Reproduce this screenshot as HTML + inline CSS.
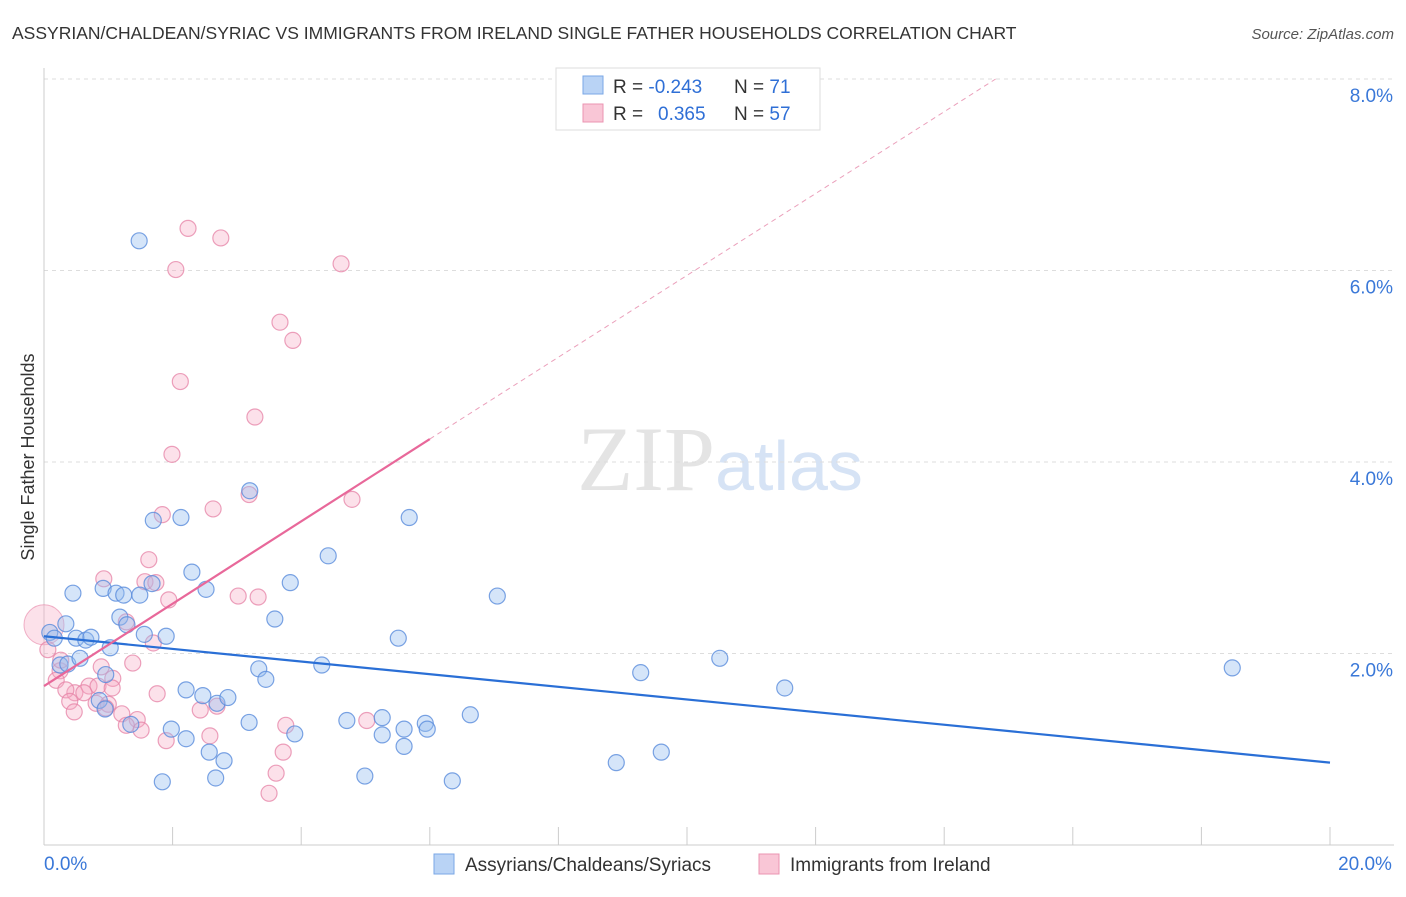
<!DOCTYPE html>
<html><head><meta charset="utf-8"><style>
body{margin:0;background:#fff;font-family:"Liberation Sans",sans-serif;}
svg text{font-family:"Liberation Sans",sans-serif;}
</style></head><body>
<svg width="1406" height="892" viewBox="0 0 1406 892" xmlns="http://www.w3.org/2000/svg">
<text x="12" y="39" font-size="17.5" fill="#333">ASSYRIAN/CHALDEAN/SYRIAC VS IMMIGRANTS FROM IRELAND SINGLE FATHER HOUSEHOLDS CORRELATION CHART</text>
<text x="1394" y="39" font-size="15" fill="#555" text-anchor="end" font-style="italic">Source: ZipAtlas.com</text>
<text x="720" y="490" font-size="92" fill="#e4e4e4" text-anchor="middle" font-family="Liberation Serif"><tspan font-family="Liberation Serif">ZIP</tspan><tspan fill="#d6e3f5" font-family="Liberation Sans" font-size="70">atlas</tspan></text>
<g id="grid"></g>
<g id="axes"></g>
<g id="pts"></g>
<g id="trends"></g>
<text x="34" y="457" font-size="18" fill="#333" text-anchor="middle" transform="rotate(-90 34 457)">Single Father Households</text>
<g>
<rect x="556" y="68" width="264" height="62" fill="#fff" stroke="#ddd"/>
<rect x="583" y="76" width="20" height="18" fill="#b9d3f5" stroke="#7aa7e6"/>
<rect x="583" y="104" width="20" height="18" fill="#f9c6d6" stroke="#eb94b2"/>
<text x="613" y="93" font-size="19" fill="#333">R = <tspan fill="#2f6fd6">-0.243</tspan><tspan x="734">N = </tspan><tspan fill="#2f6fd6">71</tspan></text>
<text x="613" y="120" font-size="19" fill="#333">R = <tspan x="658" fill="#2f6fd6">0.365</tspan><tspan x="734">N = </tspan><tspan fill="#2f6fd6">57</tspan></text>
</g>
<g>
<rect x="434" y="854" width="20" height="20" fill="#b9d3f5" stroke="#7aa7e6"/>
<text x="465" y="871" font-size="19" fill="#333">Assyrians/Chaldeans/Syriacs</text>
<rect x="759" y="854" width="20" height="20" fill="#f9c6d6" stroke="#eb94b2"/>
<text x="790" y="871" font-size="19" fill="#333">Immigrants from Ireland</text>
</g>
</svg>
<script>
const yTicks=[2,4,6,8];
const yTickLabels=["2.0%","4.0%","6.0%","8.0%"];
const xTickLabels=["0.0%","20.0%"];
const blueX=[1.48,0.09,0.16,0.34,0.45,0.25,0.37,0.56,0.50,0.65,0.73,0.92,1.12,1.24,1.49,1.03,1.18,1.29,1.56,1.68,1.90,1.70,2.13,2.30,2.52,3.20,3.83,3.59,3.34,3.45,4.32,4.42,5.51,5.68,7.05,2.21,2.47,2.69,2.86,1.98,2.21,2.57,2.80,3.19,3.90,4.71,5.26,5.26,5.60,5.60,5.93,5.96,6.63,1.84,2.67,4.99,6.35,9.28,10.51,11.52,8.90,9.60,18.48,0.86,0.95,1.35,0.96];
const blueY=[6.31,2.22,2.16,2.31,2.63,1.88,1.89,1.95,2.16,2.14,2.17,2.68,2.63,2.61,2.61,2.06,2.38,2.30,2.20,2.73,2.18,3.39,3.42,2.85,2.67,3.70,2.74,2.36,1.84,1.73,1.88,3.02,2.16,3.42,2.60,1.62,1.56,1.48,1.54,1.21,1.11,0.97,0.88,1.28,1.16,1.30,1.33,1.15,1.21,1.03,1.27,1.21,1.36,0.66,0.70,0.72,0.67,1.80,1.95,1.64,0.86,0.97,1.85,1.51,1.42,1.26,1.78];
const pinkX=[2.24,2.75,2.05,4.62,3.67,3.87,2.12,3.28,1.99,4.79,3.19,2.63,1.84,1.63,0.93,1.57,1.74,1.94,3.02,3.33,1.28,1.70,1.38,0.89,0.70,0.84,1.07,1.06,0.25,0.19,0.48,0.34,0.62,0.40,0.81,1.00,0.47,1.21,1.45,1.28,1.51,1.76,2.43,2.69,1.90,2.58,3.76,3.72,3.61,3.50,5.02,0.06,0.96,0.26];
const pinkY=[6.44,6.34,6.01,6.07,5.46,5.27,4.84,4.47,4.08,3.61,3.66,3.51,3.45,2.98,2.78,2.75,2.74,2.56,2.60,2.59,2.33,2.11,1.90,1.86,1.66,1.66,1.74,1.64,1.82,1.72,1.59,1.62,1.59,1.50,1.48,1.47,1.39,1.37,1.31,1.25,1.20,1.58,1.41,1.45,1.09,1.14,1.25,0.97,0.75,0.54,1.30,2.04,1.43,1.93];
const blueTrend=[[0,2.18],[20,0.86]];
const pinkTrend=[[0,1.66],[6,4.24]];
const pinkDash=[[6,4.24],[14.8,8.0]];
const NS="http://www.w3.org/2000/svg";
const X=v=>44+v*64.3, Y=v=>845-v*95.75;
function mk(tag,attrs,parent){const e=document.createElementNS(NS,tag);for(const k in attrs)e.setAttribute(k,attrs[k]);parent.appendChild(e);return e;}
const grid=document.getElementById('grid'),axes=document.getElementById('axes'),pts=document.getElementById('pts'),tr=document.getElementById('trends');
yTicks.forEach((t,i)=>{
 const l=mk('line',{x1:44,x2:1394,y1:Y(t),y2:Y(t),stroke:'#ddd','stroke-dasharray':'4,4'},grid);
 
 
 const tx=mk('text',{x:1393,y:Y(t)+23,'font-size':19,fill:'#3a78d8','text-anchor':'end'},axes);
 tx.textContent=yTickLabels[i];
 
 
});
const tl=mk('line',{x1:44,x2:1394,y1:79,y2:79,stroke:'#ddd','stroke-dasharray':'4,4'},grid);


const ya=mk('line',{x1:44,x2:44,y1:68,y2:845,stroke:'#ccc'},axes);


const xa=mk('line',{x1:44,x2:1394,y1:845,y2:845,stroke:'#ccc'},axes);


for(let v=0;v<=20;v+=2){const t=mk('line',{x1:X(v),x2:X(v),y1:827,y2:845,stroke:'#ccc'},axes);
 
 }
[[0,'start',44],[20,'middle',1365]].forEach((d,i)=>{const t=mk('text',{x:d[2],y:870,'font-size':19,fill:'#3a78d8','text-anchor':d[1]},axes);t.textContent=xTickLabels[i];
 
 });
const big=mk('circle',{cx:X(0),cy:Y(2.30),r:20,fill:'rgba(245,170,195,0.35)',stroke:'rgba(230,130,165,0.6)'},pts);


pinkX.forEach((x,i)=>{const c=mk('circle',{cx:X(x),cy:Y(pinkY[i]),r:8,fill:'rgba(245,170,195,0.35)',stroke:'rgba(230,130,165,0.75)','stroke-width':1.2},pts);
 
 });
blueX.forEach((x,i)=>{const c=mk('circle',{cx:X(x),cy:Y(blueY[i]),r:8,fill:'rgba(150,190,240,0.4)',stroke:'rgba(90,140,220,0.8)','stroke-width':1.2},pts);
 
 });
const b=mk('line',{x1:X(blueTrend[0][0]),y1:Y(blueTrend[0][1]),x2:X(blueTrend[1][0]),y2:Y(blueTrend[1][1]),stroke:'#2a6fd6','stroke-width':2.2},tr);


const p=mk('line',{x1:X(pinkTrend[0][0]),y1:Y(pinkTrend[0][1]),x2:X(pinkTrend[1][0]),y2:Y(pinkTrend[1][1]),stroke:'#e8689a','stroke-width':2.2},tr);


const pd=mk('line',{x1:X(pinkDash[0][0]),y1:Y(pinkDash[0][1]),x2:X(pinkDash[1][0]),y2:Y(pinkDash[1][1]),stroke:'#eba0bb','stroke-width':1,'stroke-dasharray':'5,4'},tr);


</script>
</body></html>
